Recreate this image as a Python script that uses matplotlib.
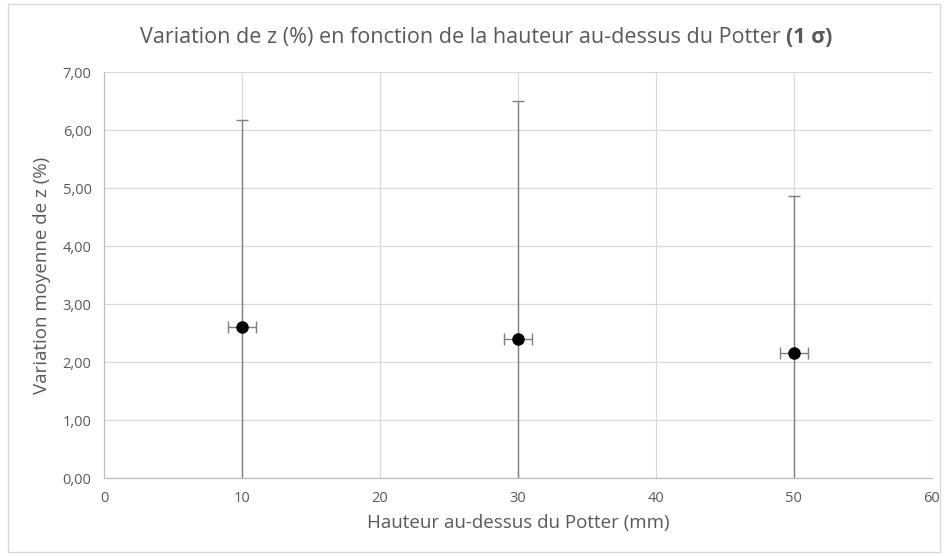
import matplotlib.pyplot as plt
from matplotlib.patches import Rectangle
from matplotlib.ticker import FuncFormatter, MultipleLocator

# Données
hauteurs = [10, 30, 50]
variation_moyenne = [2.60, 2.40, 2.15]
erreur_y = [3.58, 4.10, 2.72]
erreur_x = [1.0, 1.0, 1.0]

plt.rcParams['font.family'] = ['Open Sans', 'DejaVu Sans']
gris_texte = "#595959"

fig = plt.figure(figsize=(9.46, 5.56), dpi=100)
ax = fig.add_axes([0.110, 0.140, 0.875, 0.7305])

ax.errorbar(hauteurs, variation_moyenne, yerr=erreur_y, xerr=erreur_x,
            fmt='o', color='black', markersize=8, ecolor='#7f7f7f',
            elinewidth=1.0, capsize=4, capthick=1.0, zorder=3)

ax.set_xlim(0, 60)
ax.set_ylim(0, 7)
ax.xaxis.set_major_locator(MultipleLocator(10))
ax.yaxis.set_major_locator(MultipleLocator(1))
ax.yaxis.set_major_formatter(FuncFormatter(lambda v, p: f"{v:.2f}".replace(".", ",")))
ax.xaxis.set_major_formatter(FuncFormatter(lambda v, p: f"{v:.0f}"))

ax.grid(True, color='#d9d9d9', linewidth=0.9)
ax.set_axisbelow(True)
for s in ["top", "right"]:
    ax.spines[s].set_visible(False)
for s in ["left", "bottom"]:
    ax.spines[s].set_color('#bfbfbf')
    ax.spines[s].set_linewidth(0.9)
ax.tick_params(length=0, labelsize=10.5, colors=gris_texte, pad=9)

ax.set_xlabel("Hauteur au-dessus du Potter (mm)", fontsize=13.5, color=gris_texte, labelpad=6)
ax.set_ylabel("Variation moyenne de z (%)", fontsize=13.5, color=gris_texte, labelpad=8)

# Titre en deux parties (la fin en gras)
t1 = fig.text(0.148, 0.933, "Variation de z (%) en fonction de la hauteur au-dessus du Potter ",
              fontsize=15.5, color=gris_texte, va='center')
ax.annotate("(1 σ)", xy=(1, 0), xycoords=t1, va='bottom', ha='left',
            fontsize=15.5, color=gris_texte, fontweight='bold', annotation_clip=False)

# Cadre de la zone du graphique
fig.patches.append(Rectangle((0.008, 0.008), 0.986, 0.984, transform=fig.transFigure,
                             fill=False, edgecolor='#d9d9d9', linewidth=1.0))

fig.savefig("out.png", dpi=100)
